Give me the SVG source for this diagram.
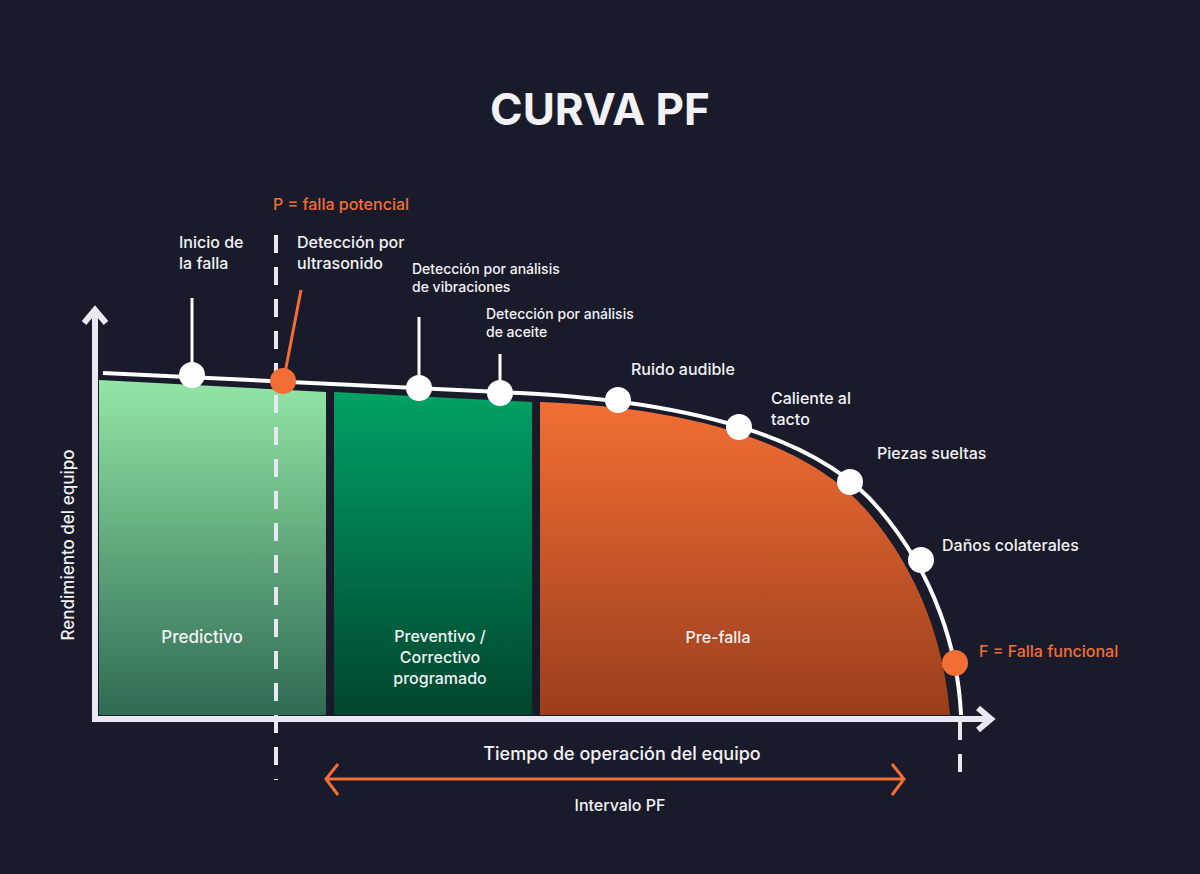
<svg xmlns="http://www.w3.org/2000/svg" width="1200" height="874" viewBox="0 0 1200 874">
<defs>
<linearGradient id="g1" x1="0" y1="0" x2="0" y2="1"><stop offset="0" stop-color="#93e6a6"/><stop offset="1" stop-color="#2f6a52"/></linearGradient>
<linearGradient id="g2" x1="0" y1="0" x2="0" y2="1"><stop offset="0" stop-color="#00a264"/><stop offset="1" stop-color="#00452e"/></linearGradient>
<linearGradient id="g3" x1="0" y1="0" x2="0" y2="1"><stop offset="0" stop-color="#f26e34"/><stop offset="1" stop-color="#9a3e1c"/></linearGradient>
<style>
text{font-family:"Inter","Liberation Sans",sans-serif;fill:#f2f2f6;font-weight:500}
.lbl{font-size:16px}
.sm{font-size:14px}
.org{fill:#f26e34}
.axis{stroke:#e8e8f2;stroke-width:6;fill:none}
.dot{fill:#fff}
</style>
</defs>
<rect width="1200" height="874" fill="#1a1b2a"/>
<text x="600" y="125" text-anchor="middle" style="font-size:44px;font-weight:700">CURVA PF</text>
<g id="regions">
<path d="M99,380 L326,392 L326,715 L99,715 Z" fill="url(#g1)"/>
<path d="M334,392 L532,402 L532,715 L334,715 Z" fill="url(#g2)"/>
<path d="M540,402 C700,408 812,446 868,512 C922,575 945,650 950,715 L540,715 Z" fill="url(#g3)"/>
</g>
<text x="202" y="643" text-anchor="middle" style="font-size:17px">Predictivo</text>
<text x="440" y="642" text-anchor="middle" class="lbl">Preventivo /</text>
<text x="440" y="663" text-anchor="middle" class="lbl">Correctivo</text>
<text x="440" y="684" text-anchor="middle" class="lbl">programado</text>
<text x="718" y="643" text-anchor="middle" class="lbl">Pre-falla</text>
<g id="connectors">
<path class="axis" d="M95,719 L95,312 M84,323 L95,310 L106,323"/>
<path class="axis" d="M92,719 L988,719 M978,708 L991,719 L978,730"/>
<path d="M103,373 L520,393 C700,402 822,440 880,510 C935,575 958,650 961,715" fill="none" stroke="#fff" stroke-width="4"/>
<line x1="276" y1="235" x2="276" y2="780" stroke="#e8e8f2" stroke-width="4" stroke-dasharray="18,14"/>
<line x1="960" y1="722" x2="960" y2="785" stroke="#e8e8f2" stroke-width="4" stroke-dasharray="18,14"/>
<line x1="284" y1="378" x2="301" y2="290" stroke="#f26e34" stroke-width="3"/>
<g stroke="#fff" stroke-width="3">
<line x1="192" y1="298" x2="192" y2="375"/>
<line x1="419" y1="317" x2="419" y2="388"/>
<line x1="500" y1="354" x2="500" y2="393"/>
</g>
<path d="M326,779 L904,779 M338,764 L326,779 L338,795 M892,764 L904,779 L892,795" fill="none" stroke="#f26e34" stroke-width="3"/>
</g>
<g id="points">
<circle class="dot" cx="192" cy="375" r="13"/>
<circle cx="283" cy="381" r="13" fill="#f26e34"/>
<circle class="dot" cx="419" cy="388" r="13"/>
<circle class="dot" cx="500" cy="393" r="13"/>
<circle class="dot" cx="618" cy="400" r="13"/>
<circle class="dot" cx="739" cy="427" r="13"/>
<circle class="dot" cx="850" cy="482" r="13"/>
<circle class="dot" cx="921" cy="560" r="13"/>
<circle cx="955" cy="663" r="13" fill="#f26e34"/>
</g>
<g id="labels">
<text x="273" y="210" class="lbl org">P = falla potencial</text>
<text x="179" y="248" class="lbl">Inicio de</text>
<text x="179" y="269" class="lbl">la falla</text>
<text x="297" y="248" class="lbl">Detección por</text>
<text x="297" y="269" class="lbl">ultrasonido</text>
<text x="412" y="274" class="sm">Detección por análisis</text>
<text x="412" y="292" class="sm">de vibraciones</text>
<text x="486" y="319" class="sm">Detección por análisis</text>
<text x="486" y="337" class="sm">de aceite</text>
<text x="631" y="375" class="lbl">Ruido audible</text>
<text x="771" y="404" class="lbl">Caliente al</text>
<text x="771" y="425" class="lbl">tacto</text>
<text x="877" y="459" class="lbl">Piezas sueltas</text>
<text x="942" y="551" class="lbl">Daños colaterales</text>
<text x="979" y="657" class="lbl org">F = Falla funcional</text>
<text x="622" y="760" text-anchor="middle" style="font-size:18px">Tiempo de operación del equipo</text>
<text x="620" y="811" text-anchor="middle" class="lbl">Intervalo PF</text>
<text transform="translate(74,545) rotate(-90)" text-anchor="middle" style="font-size:17px">Rendimiento del equipo</text>
</g>
</svg>
